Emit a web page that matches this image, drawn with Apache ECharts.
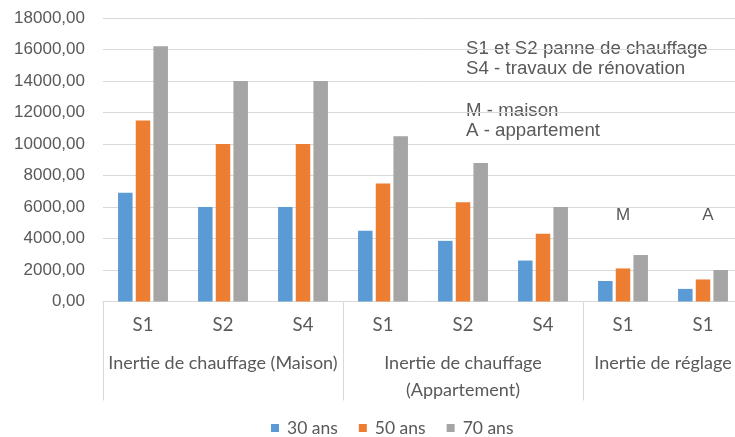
<!DOCTYPE html>
<html>
<head>
<meta charset="utf-8">
<script src="https://cdn.jsdelivr.net/npm/echarts@6/dist/echarts.min.js"></script>
<style>
  html, body { margin: 0; padding: 0; background: #ffffff; }
  #chart { width: 735px; height: 437px; }
</style>
</head>
<body>
<div id="chart"></div>
<script>
// Scenario labels along the category axis
const scenarios = ['S1', 'S2', 'S4', 'S1', 'S2', 'S4', 'S1', 'S1'];
// Group labels, with the axis position (in category units) of each group centre and boundary
const groupNames = ['Inertie de chauffage (Maison)', 'Inertie de chauffage\n(Appartement)', 'Inertie de réglage'];
const groupCenters = [1.5, 4.5, 7];
const groupBounds = [0, 3, 6];

// Series values
const seriesNames = ['30 ans', '50 ans', '70 ans'];
const values30 = [6900, 6000, 6000, 4500, 3850, 2600, 1300, 800];
const values50 = [11500, 10000, 10000, 7500, 6300, 4300, 2100, 1400];
const values70 = [16200, 14000, 14000, 10500, 8800, 6000, 2950, 2000];

// Y axis range
const yMin = 0, yMax = 18000, yStep = 2000;

// Markers written above the two "Inertie de réglage" bars
const typeMarks = [
  { name: 'M', index: 6, y: 5500, dx: 0 },
  { name: 'A', index: 7, y: 5500, dx: 5 }
];

// Explanatory notes at the upper right
const notes = ['S1 et S2 panne de chauffage', 'S4 - travaux de rénovation', '', 'M - maison', 'A - appartement'];

const colors = ['#5B9BD5', '#ED7D31', '#A5A5A5'];
const textColor = '#595959';
const gridColor = '#D9D9D9';
const catFont = 'Lato, "Open Sans", sans-serif';
const numFont = '"Liberation Sans", Arial, sans-serif';

const chart = echarts.init(document.getElementById('chart'), null, { renderer: 'canvas' });

const bars = [values30, values50, values70].map((vals, i) => ({
  name: seriesNames[i],
  type: 'bar',
  data: vals,
  barWidth: 14.5,
  barGap: '22%',
  itemStyle: { color: colors[i] },
  emphasis: { disabled: true },
  markPoint: i === 1 ? {
    symbol: 'circle',
    symbolSize: 0,
    silent: true,
    label: {
      show: true,
      position: 'inside',
      formatter: p => p.name,
      color: textColor,
      fontFamily: numFont,
      fontSize: 17
    },
    data: typeMarks.map(m => ({
      name: m.name,
      coord: [m.index, m.y],
      label: { offset: [m.dx, 0] }
    }))
  } : undefined
}));

chart.setOption({
  animation: false,
  backgroundColor: '#ffffff',
  color: colors,
  grid: { left: 103, top: 18, width: 640, bottom: 135.5, containLabel: false, outerBoundsMode: 'none' },
  legend: {
    left: 271,
    top: 419,
    padding: 0,
    itemWidth: 8,
    itemHeight: 8,
    itemGap: 21,
    icon: 'rect',
    textStyle: { color: textColor, fontFamily: catFont, fontSize: 17.5, padding: [0, 0, 0, 3] },
    data: seriesNames
  },
  xAxis: [
    {
      type: 'category',
      data: scenarios,
      axisLine: { show: true, lineStyle: { color: gridColor, width: 1 } },
      axisTick: { show: false },
      axisLabel: { color: textColor, fontFamily: catFont, fontSize: 18.5, margin: 14 },
      splitLine: { show: false }
    },
    {
      type: 'value',
      min: 0,
      max: scenarios.length,
      position: 'bottom',
      axisLine: { show: false },
      splitLine: { show: false },
      axisTick: {
        show: true,
        customValues: groupBounds,
        length: 99,
        lineStyle: { color: gridColor, width: 1 }
      },
      axisLabel: {
        show: true,
        customValues: groupCenters,
        formatter: v => groupNames[groupCenters.indexOf(v)],
        color: textColor,
        fontFamily: catFont,
        fontSize: 18,
        lineHeight: 27,
        margin: 48,
        align: 'center',
        verticalAlign: 'top'
      }
    }
  ],
  yAxis: {
    type: 'value',
    min: yMin,
    max: yMax,
    interval: yStep,
    axisLine: { show: false },
    axisTick: { show: false },
    splitLine: { lineStyle: { color: gridColor, width: 1 } },
    axisLabel: {
      color: textColor,
      fontFamily: numFont,
      fontSize: 17,
      margin: 18,
      formatter: v => v.toFixed(2).replace('.', ',')
    }
  },
  graphic: notes.map((t, i) => ({
    type: 'text',
    left: 466,
    top: 39 + i * 20.7,
    silent: true,
    style: { text: t, fill: textColor, font: '18.7px ' + numFont }
  })),
  series: bars
});
</script>
</body>
</html>
